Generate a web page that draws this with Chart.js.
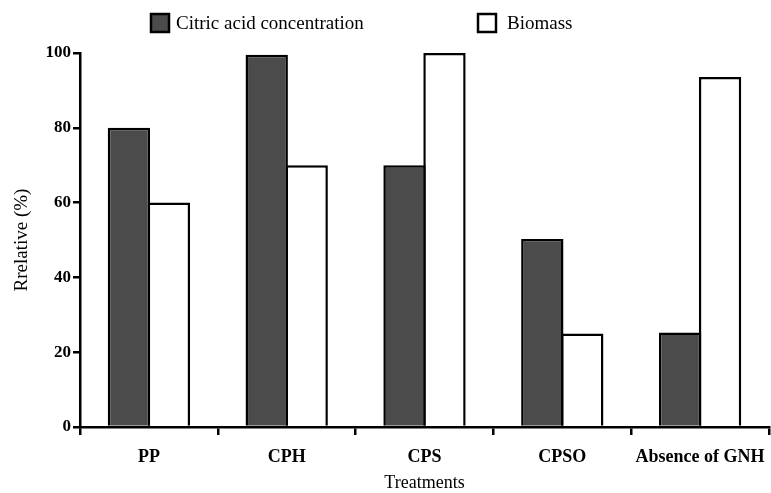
<!DOCTYPE html>
<html>
<head>
<meta charset="utf-8">
<script src="https://cdn.jsdelivr.net/npm/chart.js@4"></script>
<style>
  html, body { margin: 0; padding: 0; background: #fff; }
  #wrap { width: 771px; height: 493px; }
</style>
</head>
<body>
<div id="wrap"><canvas id="barChart"></canvas></div>
<script>
// data
const treatments = ['PP', 'CPH', 'CPS', 'CPSO', 'Absence of GNH'];
const citricAcid = [80, 99.5, 70, 50.3, 25.3];
const biomass = [60, 70, 100, 25, 93.6];
const yTicks = [0, 20, 40, 60, 80, 100];

const serif = '"Liberation Serif", "Times New Roman", serif';

// legend drawn on top, spaced like the original figure
const topLegend = {
  id: 'topLegend',
  afterDraw(chart, args, opts) {
    const ctx = chart.ctx;
    ctx.save();
    ctx.font = '19px ' + serif;
    ctx.textBaseline = 'middle';
    chart.data.datasets.forEach((ds, i) => {
      const x = opts.xs[i];
      const y = opts.y;
      ctx.fillStyle = ds.backgroundColor;
      ctx.fillRect(x, y, 18, 18);
      ctx.lineWidth = 2.5;
      ctx.strokeStyle = '#000';
      ctx.strokeRect(x, y, 18, 18);
      ctx.fillStyle = '#000';
      ctx.fillText(ds.label, x + opts.gap[i], y + 10);
    });
    ctx.restore();
  }
};

const ctb = document.getElementById('barChart');

new Chart(ctb, {
  type: 'bar',
  data: {
    labels: treatments,
    datasets: [{
      label: 'Citric acid concentration',
      data: citricAcid,
      backgroundColor: '#4b4b4b',
      borderColor: '#000',
      borderWidth: 2.5,
      borderSkipped: 'bottom'
    }, {
      label: 'Biomass',
      data: biomass,
      backgroundColor: '#ffffff',
      borderColor: '#000',
      borderWidth: 2.5,
      borderSkipped: 'bottom'
    }]
  },
  options: {
    responsive: true,
    maintainAspectRatio: false,
    animation: false,
    datasets: {
      bar: { categoryPercentage: 0.58, barPercentage: 1.06, inflateAmount: 0 }
    },
    layout: { padding: { top: 53, right: 2, bottom: 0, left: 0 } },
    scales: {
      x: {
        grid: {
          offset: true,
          drawOnChartArea: false,
          drawTicks: true,
          tickLength: 8,
          color: '#000',
          lineWidth: 2.5
        },
        border: { display: true, color: '#000', width: 2.5 },
        ticks: {
          color: '#000',
          padding: 12,
          maxRotation: 0,
          font: { family: serif, size: 18, weight: 'bold' }
        },
        title: {
          display: true,
          text: 'Treatments',
          color: '#000',
          padding: { top: 0, bottom: -1 },
          font: { family: serif, size: 18 }
        },
        afterFit(scale) {
          scale.height = 66;
          scale.paddingLeft = 0;
          scale.paddingRight = 0;
        }
      },
      y: {
        min: 0,
        max: 100,
        afterBuildTicks(scale) { scale.ticks = yTicks.map(v => ({ value: v })); },
        grid: {
          drawOnChartArea: false,
          drawTicks: true,
          tickLength: 7,
          color: '#000',
          lineWidth: 2.5
        },
        border: { display: true, color: '#000', width: 2.5 },
        ticks: {
          color: '#000',
          padding: 2,
          font: { family: serif, size: 17, weight: 'bold' }
        },
        title: {
          display: true,
          text: 'Rrelative (%)',
          color: '#000',
          padding: { top: 11, bottom: 0 },
          font: { family: serif, size: 19 }
        },
        afterFit(scale) { scale.width = 80; }
      }
    },
    plugins: {
      legend: { display: false },
      tooltip: { enabled: false },
      topLegend: { xs: [151, 478], gap: [25, 29], y: 14 }
    }
  },
  plugins: [topLegend]
});
</script>
</body>
</html>
